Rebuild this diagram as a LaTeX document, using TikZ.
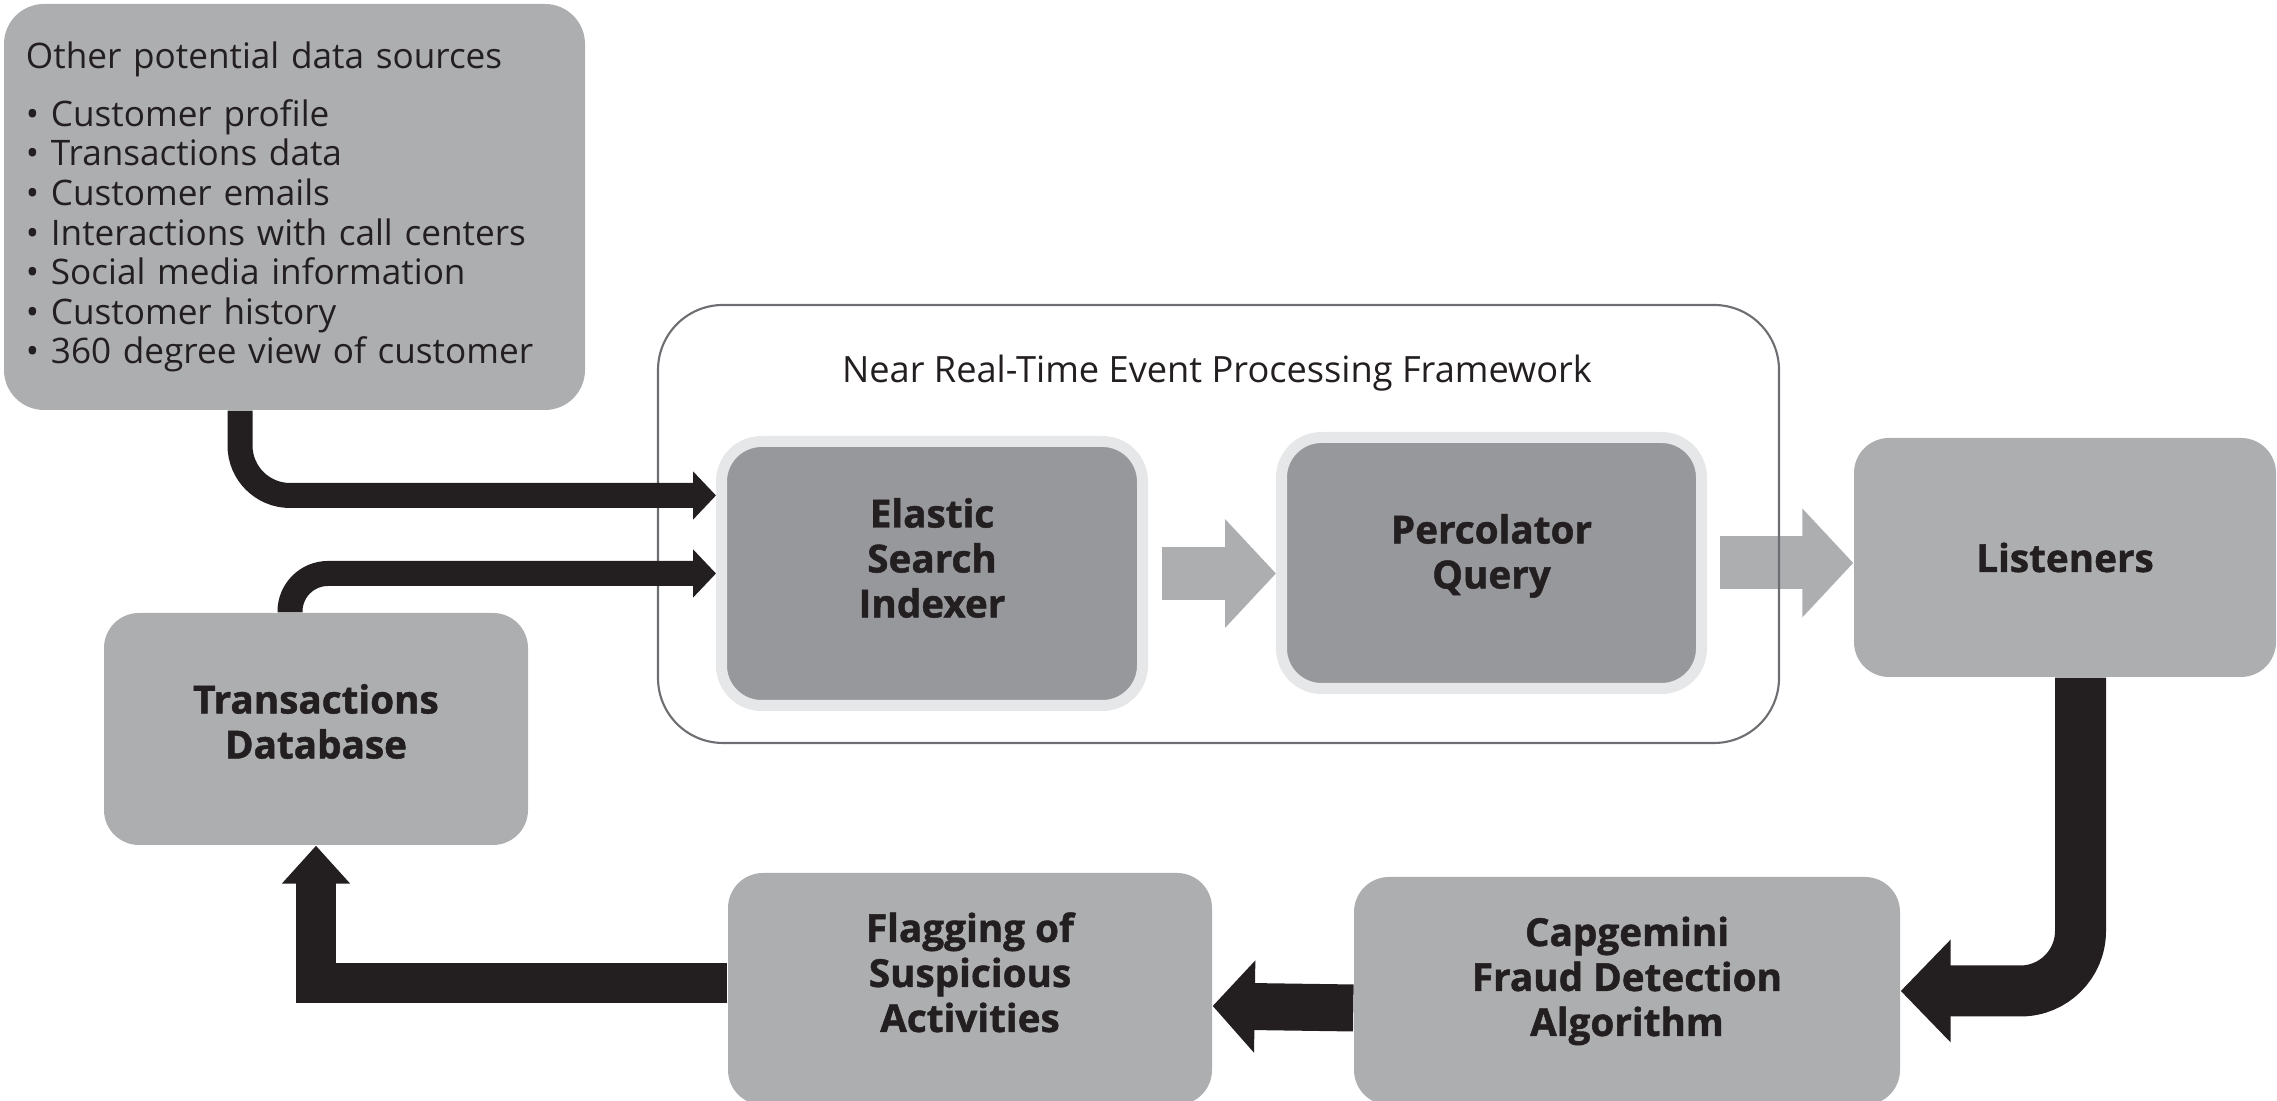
\documentclass[tikz,border=0pt]{standalone}
\usepackage{fontspec}
\setmainfont{Open Sans}[BoldFeatures={FakeBold=1.2}]
\usetikzlibrary{arrows.meta}

\definecolor{boxgray}{RGB}{173,174,176}
\definecolor{innergray}{RGB}{151,152,155}
\definecolor{halo}{RGB}{230,231,232}
\definecolor{ink}{RGB}{35,31,32}
\definecolor{frameline}{RGB}{109,110,113}

% box text, lifted a little above the middle of its box
\newcommand{\boxtext}[2][0pt]{\raisebox{#1}[\height][\depth]{\begin{tabular}{@{}c@{}}#2\end{tabular}}}

\tikzset{
    box/.style={fill=boxgray, rounded corners=3.5mm, text=ink,
        font=\fontsize{11}{12.8}\selectfont\bfseries},
    inbox/.style={box, fill=innergray, draw=halo, line width=1.1mm, rounded corners=4mm},
    fat/.style n args={3}{draw=ink, line width=#1, -{Triangle[length=#2,width=#3]}},
    greyarrow/.style={draw=boxgray, line width=5.3mm, -{Triangle[length=5.1mm,width=10.6mm]}}
}

\begin{document}
\begin{tikzpicture}
    \useasboundingbox (0,0) rectangle (22.77,11.01);

    % Data sources
    \node[fill=boxgray, rounded corners=4mm, text=ink, align=left, inner xsep=2.2mm,
        text width=5.37cm, minimum width=5.81cm, minimum height=4.06cm,
        font=\fontsize{10}{11.26}\selectfont] (sources) at (2.945,8.94)
        {Other potential data sources\\[5.2pt]
         • Customer profile\\
         • Transactions data\\
         • Customer emails\\
         • Interactions with call centers\\
         • Social media information\\
         • Customer history\\
         • 360 degree view of customer};

    % Boxes
    \node[inbox, minimum width=4.21cm, minimum height=2.64cm] (elastic) at (9.32,5.275)
        {\boxtext[1mm]{Elastic\\Search\\Indexer}};
    \node[inbox, minimum width=4.20cm, minimum height=2.51cm] (percolator) at (14.915,5.38)
        {\boxtext[0.6mm]{Percolator\\Query}};
    \node[box, minimum width=4.22cm, minimum height=2.39cm] (listeners) at (20.65,5.435)
        {Listeners};
    \node[box, minimum width=5.46cm, minimum height=2.28cm] (capgemini) at (16.27,1.10)
        {\boxtext[0.9mm]{Capgemini\\Fraud Detection\\Algorithm}};
    \node[box, minimum width=4.84cm, minimum height=2.32cm] (flagging) at (9.70,1.12)
        {\boxtext[1.1mm]{Flagging of\\Suspicious\\Activities}};
    \node[box, minimum width=4.24cm, minimum height=2.32cm] (tdb) at (3.16,3.72)
        {\boxtext[0.2mm]{Transactions\\Database}};

    % Grey arrows
    \draw[greyarrow] ([xshift=1.4mm]elastic.east) -- (percolator.west |- elastic.east);
    \draw[greyarrow] ([xshift=1.3mm]percolator.east) -- (listeners.west |- percolator.east);

    % Framework
    \node[draw=frameline, line width=0.6pt, rounded corners=6.5mm,
        minimum width=11.21cm, minimum height=4.38cm] (frame) at (12.185,5.77) {};
    \node[text=ink, font=\fontsize{10.3}{12}\selectfont] (framelabel) at (12.17,7.28)
        {Near Real-Time Event Processing Framework};

    % Black arrows
    \draw[fat={2.5mm}{2.3mm}{4.7mm}, rounded corners=5mm]
        ([xshift=-5.45mm]sources.south) |- ([yshift=7.8mm]elastic.west);
    \draw[fat={2.5mm}{2.3mm}{4.7mm}, rounded corners=3.8mm]
        ([xshift=-2.6mm]tdb.north) |- (elastic.west);
    \draw[fat={5.1mm}{5mm}{10mm}, rounded corners=6mm]
        ([xshift=1.55mm]listeners.south) |- (capgemini.east);
    \draw[fat={4.7mm}{4.2mm}{9mm}]
        ([yshift=-1.7mm]capgemini.west) -- ([yshift=-1.7mm]flagging.east);
    \draw[fat={4mm}{3.8mm}{6.6mm}]
        ([yshift=0.6mm]flagging.west) -| (tdb.south);

\end{tikzpicture}
\end{document}
